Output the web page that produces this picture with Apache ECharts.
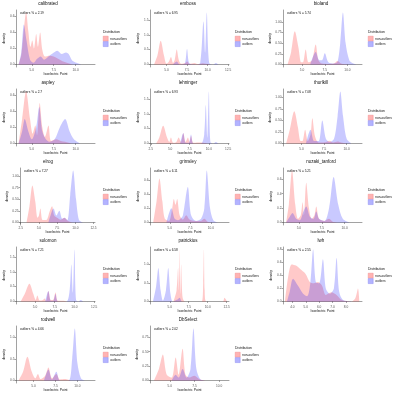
<!DOCTYPE html>
<html>
<head>
<meta charset="utf-8">
<script src="https://cdn.jsdelivr.net/npm/echarts@6/dist/echarts.min.js"></script>
<style>
html, body { margin: 0; padding: 0; background: #fff; }
#chart { width: 400px; height: 399px; }
</style>
</head>
<body>
<div id="chart"></div>
<script>
// density curves, [isoelectric point, density]
var calibratedNon = [[3.5,0],[3.8,0.12],[4.1,0.45],[4.35,0.65],[4.6,0.42],[4.85,0.22],[5.05,0.3],[5.25,0.2],[5.5,0.38],[5.7,0.22],[5.95,0.4],[6.2,0.18],[6.5,0.1],[7.0,0.11],[7.5,0.1],[8.0,0.07],[8.5,0.04],[9.0,0.02],[9.6,0]];
var calibratedOut = [[3.5,0],[3.8,0.15],[4.1,0.5],[4.4,0.3],[4.8,0.06],[5.2,0.02],[5.6,0.07],[6.0,0.1],[6.4,0.06],[6.9,0.1],[7.4,0.14],[7.9,0.17],[8.4,0.13],[8.9,0.15],[9.2,0.13],[9.6,0.05],[10.1,0.02],[10.6,0]];
var embossNon = [[3.5,0],[3.9,0.3],[4.3,0.8],[4.7,0.3],[5.0,0.02],[5.3,0.1],[5.55,0.25],[5.8,0.05],[6.0,0.15],[6.25,0.5],[6.5,0.15],[6.8,0.02],[7.3,0.05],[7.5,0.1],[7.8,0.02],[8.4,0.05],[8.8,0.01],[9.4,0.04],[9.8,0.02],[10.3,0]];
var embossOut = [[5.8,0],[6.25,0.1],[6.6,0],[7.2,0.02],[7.5,0.52],[7.8,0.03],[8.6,0],[9.1,0.05],[9.5,1.45],[9.7,0.4],[9.9,1.75],[10.2,0.05],[10.7,0],[11.0,0.05],[11.3,0]];
var biolandNon = [[3.4,0],[3.8,0.3],[4.2,0.78],[4.6,0.4],[4.9,0.05],[5.1,0.05],[5.4,0.35],[5.7,0.05],[6.1,0.1],[6.5,0.47],[6.8,0.1],[7.2,0.02],[7.8,0.01],[8.5,0.02],[8.9,0.08],[9.3,0.02],[10,0]];
var biolandOut = [[5.9,0],[6.5,0.29],[6.9,0.1],[7.2,0.1],[7.5,0.26],[7.9,0.05],[8.5,0.02],[8.9,0.06],[9.2,0.5],[9.5,1.22],[9.8,0.5],[10.2,0.1],[10.6,0.03],[11.0,0]];
var aspleyNon = [[3.5,0],[3.9,0.3],[4.35,0.64],[4.8,0.3],[5.1,0.12],[5.4,0.22],[5.6,0.1],[5.9,0.5],[6.2,0.2],[6.5,0.08],[6.9,0.22],[7.2,0.03],[7.8,0.05],[8.3,0.03],[8.8,0.02],[9.5,0]];
var aspleyOut = [[3.5,0],[3.9,0.15],[4.2,0.3],[4.6,0.15],[5.0,0.05],[5.5,0.2],[5.85,0.45],[6.2,0.15],[6.6,0.05],[7.0,0.02],[7.6,0.05],[8.2,0.2],[8.8,0.3],[9.3,0.15],[9.8,0.05],[10.5,0]];
var lehningerNon = [[3.2,0],[3.6,0.2],[4.1,0.6],[4.6,0.2],[4.9,0.05],[5.1,0.2],[5.4,0.02],[5.8,0.05],[6.1,0.2],[6.4,0.05],[6.7,0.35],[7.0,0.05],[7.3,0.2],[7.5,0.05],[7.7,0.25],[8.0,0.02],[8.6,0.03],[9.3,0.02],[9.8,0]];
var lehningerOut = [[6.3,0],[6.7,0.35],[7.0,0.02],[7.4,0.02],[7.7,0.3],[8.0,0],[9.0,0],[9.4,0.3],[9.6,1.3],[9.8,0.2],[10.0,1.75],[10.2,0.05],[10.6,0],[10.9,0.05],[11.2,0]];
var thurlkillNon = [[3.3,0],[3.7,0.3],[4.2,0.7],[4.6,0.35],[4.9,0.05],[5.1,0.05],[5.4,0.3],[5.7,0.05],[6.0,0.2],[6.2,0.55],[6.5,0.15],[6.9,0.02],[7.5,0.02],[8.1,0.06],[8.5,0.02],[9.0,0.04],[9.4,0.02],[10,0]];
var thurlkillOut = [[5.5,0],[6.0,0.3],[6.4,0.05],[6.9,0.05],[7.3,0.5],[7.7,0.1],[8.1,0.03],[8.6,0.1],[9.0,0.6],[9.3,1.13],[9.6,0.6],[10.0,0.1],[10.5,0]];
var elrogNon = [[3.3,0],[3.7,0.35],[4.1,0.8],[4.5,0.45],[4.8,0.1],[5.0,0.15],[5.2,0.3],[5.5,0.05],[6.0,0.05],[6.5,0.25],[6.8,0.35],[7.1,0.15],[7.5,0.1],[8.0,0.06],[8.5,0.1],[9.0,0.03],[9.6,0]];
var elrogOut = [[6.3,0],[6.8,0.25],[7.0,0.3],[7.4,0.15],[7.8,0.25],[8.2,0.08],[8.5,0.1],[8.9,0.05],[9.3,0.6],[9.7,1.12],[10.1,0.5],[10.5,0.05],[11,0]];
var grimsleyNon = [[3.0,0],[3.4,0.3],[3.75,0.62],[4.1,0.3],[4.4,0.05],[4.9,0.02],[5.3,0.2],[5.5,0.33],[5.7,0.25],[5.9,0.33],[6.2,0.1],[6.6,0.04],[7.0,0.1],[7.4,0.04],[8.0,0.02],[8.8,0.02],[9.2,0.05],[9.6,0.01],[10.2,0]];
var grimsleyOut = [[4.6,0],[5.2,0.2],[5.6,0.05],[6.0,0.03],[6.3,0.05],[6.6,0.1],[7.2,0.5],[7.6,0.1],[8.2,0.02],[8.8,0.05],[9.2,0.2],[9.5,0.73],[9.9,0.2],[10.3,0.03],[10.8,0]];
var nozakiNon = [[3.6,0],[3.9,0.25],[4.25,0.72],[4.6,0.25],[4.9,0.05],[5.2,0.1],[5.4,0.28],[5.55,0.1],[5.8,0.55],[6.1,0.2],[6.4,0.05],[6.7,0.1],[6.9,0.22],[7.2,0.05],[7.8,0.02],[8.3,0.05],[8.7,0.01],[9.3,0]];
var nozakiOut = [[3.6,0],[4.0,0.08],[4.3,0.13],[4.7,0.05],[5.1,0.03],[5.5,0.15],[5.8,0.22],[6.2,0.08],[6.6,0.05],[6.9,0.15],[7.2,0.05],[7.8,0.02],[8.3,0.2],[8.8,0.63],[9.3,0.25],[9.8,0.05],[10.5,0]];
var solomonNon = [[3.2,0],[3.7,0.25],[4.3,0.6],[4.8,0.25],[5.1,0.05],[5.3,0.2],[5.6,0.03],[6.0,0.05],[6.2,0.1],[6.4,0.02],[6.7,0.35],[7.0,0.05],[7.3,0.05],[7.6,0.3],[7.9,0.02],[8.5,0.02],[9.0,0]];
var solomonOut = [[6.3,0],[6.7,0.35],[7.0,0.02],[7.3,0.02],[7.6,0.25],[7.9,0],[9.0,0],[9.4,0.4],[9.6,1.25],[9.8,0.3],[10.0,1.75],[10.2,0.05],[10.5,0],[10.8,0.05],[11.1,0]];
var patrickiosNon = [[5.5,0],[5.9,0.3],[6.1,0.9],[6.2,0.3],[6.3,1.4],[6.4,0.2],[6.5,1.0],[6.7,0.1],[7.0,0],[9.2,0],[9.4,0.5],[9.5,1.4],[9.6,0.3],[9.8,0],[12.0,0],[12.2,0.1],[12.4,0.05],[12.5,0]];
var patrickiosOut = [[2.8,0],[3.2,0.4],[3.5,0.9],[3.8,0.3],[4.1,0.02],[4.5,0.3],[4.8,0.9],[5.1,0.2],[5.4,0],[6.0,0.05],[6.3,0.1],[6.6,0],[7,0]];
var lwhNon = [[3.45,0],[3.7,0.4],[3.95,0.57],[4.3,0.55],[4.7,0.48],[5.0,0.42],[5.3,0.3],[5.6,0.28],[5.9,0.3],[6.2,0.25],[6.5,0.1],[6.9,0.14],[7.3,0.1],[7.7,0.02],[8.4,0],[8.7,0.05],[8.9,0.2],[9.0,0]];
var lwhOut = [[3.6,0],[3.8,0.15],[4.05,0.35],[4.4,0.25],[4.8,0.12],[5.1,0.08],[5.35,0.3],[5.55,0.8],[5.75,0.3],[6.0,0.28],[6.28,0.65],[6.5,0.2],[6.8,0.12],[7.1,0.2],[7.3,0.67],[7.5,0.15],[7.8,0.02],[8.4,0]];
var rodwellNon = [[3.3,0],[3.8,0.2],[4.3,0.55],[4.8,0.2],[5.2,0.05],[5.5,0.15],[5.8,0.03],[6.3,0.1],[6.7,0.3],[7.1,0.05],[7.6,0.15],[8.0,0.02],[8.6,0.03],[9.2,0]];
var rodwellOut = [[6.2,0],[6.7,0.25],[7.1,0.02],[7.6,0.2],[8.0,0],[9.0,0],[9.4,0.5],[9.7,1.2],[10.0,0.4],[10.4,0.05],[10.8,0]];
var dbselectNon = [[3.4,0],[3.9,0.2],[4.3,0.45],[4.7,0.1],[5.2,0.05],[5.6,0.4],[5.9,0.1],[6.3,0.55],[6.6,0.1],[7.0,0.05],[7.5,0.08],[8.0,0.02],[8.6,0]];
var dbselectOut = [[5.2,0],[5.6,0.1],[5.9,0.05],[6.3,0.2],[6.7,0.05],[7.1,0.2],[7.4,0.9],[7.7,0.2],[8.1,0.02],[8.6,0]];

var panelNames = ["calibrated", "emboss", "bioland", "aspley", "lehninger", "thurlkill", "elrog", "grimsley", "nozaki_tanford", "solomon", "patrickios", "lwh", "rodwell", "DbSelect"];
var outlierPct = ["2.19", "6.95", "5.74", "2.7", "6.93", "7.08", "7.27", "6.11", "5.21", "7.21", "6.58", "2.55", "4.66", "2.02"];
var nonCurves = [calibratedNon, embossNon, biolandNon, aspleyNon, lehningerNon, thurlkillNon, elrogNon, grimsleyNon, nozakiNon, solomonNon, patrickiosNon, lwhNon, rodwellNon, dbselectNon];
var outCurves = [calibratedOut, embossOut, biolandOut, aspleyOut, lehningerOut, thurlkillOut, elrogOut, grimsleyOut, nozakiOut, solomonOut, patrickiosOut, lwhOut, rodwellOut, dbselectOut];

var xTicks = [
    [5, 7.5, 10], [5, 7.5, 10, 12.5], [5, 7.5, 10],
    [5, 7.5, 10], [2.5, 5, 7.5, 10, 12.5], [5, 7.5, 10],
    [2.5, 5, 7.5, 10, 12.5], [5, 7.5, 10], [5, 7.5, 10],
    [5, 7.5, 10, 12.5], [5, 7.5, 10, 12.5], [4, 5, 6, 7, 8],
    [5, 7.5, 10], [5, 7.5, 10]
];
var xRanges = [
    [3.2, 12.2], [3.0, 12.6], [2.9, 11.6],
    [3.2, 12.2], [2.4, 12.6], [2.95, 11.7],
    [2.4, 12.7], [2.6, 12.2], [3.26, 11.9],
    [2.6, 12.6], [2.4, 12.8], [3.3, 9.2],
    [3.0, 12.0], [3.0, 11.0]
];
var yTicks = [
    [0, 0.2, 0.4, 0.6], [0, 0.5, 1, 1.5], [0, 0.25, 0.5, 0.75, 1],
    [0, 0.2, 0.4, 0.6], [0, 0.5, 1, 1.5], [0, 0.25, 0.5, 0.75, 1],
    [0, 0.25, 0.5, 0.75, 1], [0, 0.2, 0.4, 0.6], [0, 0.2, 0.4, 0.6],
    [0, 0.5, 1, 1.5], [0, 0.5, 1], [0, 0.2, 0.4, 0.6, 0.8],
    [0, 0.5, 1], [0, 0.25, 0.5, 0.75]
];
var yDecimals = [1, 1, 2, 1, 1, 2, 2, 1, 1, 1, 1, 1, 1, 2];

var colLeft = [16, 150, 283];
var colTitle = [48, 188, 321];
var colLegend = [103, 235, 368];
var rowStep = 79;
var FONT = "Liberation Sans";

function curveMax(arr) {
    var m = 0;
    arr.forEach(function (p) { if (p[1] > m) m = p[1]; });
    return m;
}

var chart = echarts.init(document.getElementById("chart"), null, {renderer: "canvas"});
var grids = [], xAxes = [], yAxes = [], series = [], legends = [], graphics = [];

panelNames.forEach(function (name, i) {
    var row = Math.floor(i / 3), col = i % 3;
    var top = row * rowStep;
    var left = colLeft[col] + (yDecimals[i] == 2 && col == 0 ? 4 : 0);
    var ymax = Math.max(curveMax(nonCurves[i]), curveMax(outCurves[i]));
    var dec = yDecimals[i];

    grids.push({left: left, top: top + 10, width: 79 - (left - colLeft[col]), height: 57});

    xAxes.push({
        type: "value", gridIndex: i, min: xRanges[i][0], max: xRanges[i][1],
        name: "Isoelectric Point", nameLocation: "middle", nameGap: 6,
        nameTextStyle: {fontSize: 3.4, color: "#111", fontFamily: FONT},
        splitLine: {show: false},
        axisLine: {lineStyle: {color: "#444", width: 0.5}},
        axisTick: {length: 1.5, lineStyle: {color: "#444", width: 0.5}, customValues: xTicks[i]},
        axisLabel: {fontSize: 3.2, color: "#555", margin: 1.5, fontFamily: FONT,
            customValues: xTicks[i],
            formatter: function (v) { return v.toFixed(1); }}
    });
    yAxes.push({
        type: "value", gridIndex: i, min: -0.05 * ymax, max: 1.05 * ymax,
        name: "density", nameLocation: "middle", nameGap: 10,
        nameTextStyle: {fontSize: 3.4, color: "#111", fontFamily: FONT},
        splitLine: {show: false},
        axisLine: {show: true, lineStyle: {color: "#444", width: 0.5}},
        axisTick: {show: true, length: 1.5, lineStyle: {color: "#444", width: 0.5}, customValues: yTicks[i]},
        axisLabel: {fontSize: 3.2, color: "#555", margin: 1.5, fontFamily: FONT,
            customValues: yTicks[i],
            formatter: function (v) { return v.toFixed(dec); }}
    });

    series.push({
        name: "non-outliers", type: "line", xAxisIndex: i, yAxisIndex: i,
        data: nonCurves[i], smooth: 0.3, showSymbol: false, symbol: "none",
        color: "#FFB3B3",
        lineStyle: {width: 0},
        areaStyle: {color: "rgba(255,0,0,0.3)", origin: 0}
    });
    series.push({
        name: "outliers", type: "line", xAxisIndex: i, yAxisIndex: i,
        data: outCurves[i], smooth: 0.3, showSymbol: false, symbol: "none",
        color: "#B3B3FF",
        lineStyle: {width: 0},
        areaStyle: {color: "rgba(0,0,255,0.3)", origin: 0}
    });

    legends.push({
        orient: "vertical", left: colLegend[col], top: top + 36,
        itemWidth: 5, itemHeight: 5, itemGap: 0, padding: 0,
        icon: "rect", selectedMode: false,
        textStyle: {fontSize: 3.2, color: "#111", padding: [0, 0, 0, -3], fontFamily: FONT},
        data: [
            {name: "non-outliers", itemStyle: {color: "#FFB3B3", borderColor: "#F08080", borderWidth: 0.4}},
            {name: "outliers", itemStyle: {color: "#B3B3FF", borderColor: "#8080F0", borderWidth: 0.4}}
        ]
    });

    graphics.push({
        type: "text", x: colTitle[col], y: top + 4,
        style: {text: name, fill: "#111", font: "4.5px '" + FONT + "'", textAlign: "center", textVerticalAlign: "middle"}
    });
    graphics.push({
        type: "text", x: left + 4, y: top + 13,
        style: {text: "outliers % = " + outlierPct[i], fill: "#111", font: "3.2px '" + FONT + "'", textAlign: "left", textVerticalAlign: "middle"}
    });
    graphics.push({
        type: "text", x: colLegend[col], y: top + 32,
        style: {text: "Distribution", fill: "#111", font: "3.4px '" + FONT + "'", textAlign: "left", textVerticalAlign: "middle"}
    });
});

chart.setOption({
    animation: false,
    backgroundColor: "#fff",
    grid: grids,
    xAxis: xAxes,
    yAxis: yAxes,
    legend: legends,
    graphic: graphics,
    series: series
});
</script>
</body>
</html>
